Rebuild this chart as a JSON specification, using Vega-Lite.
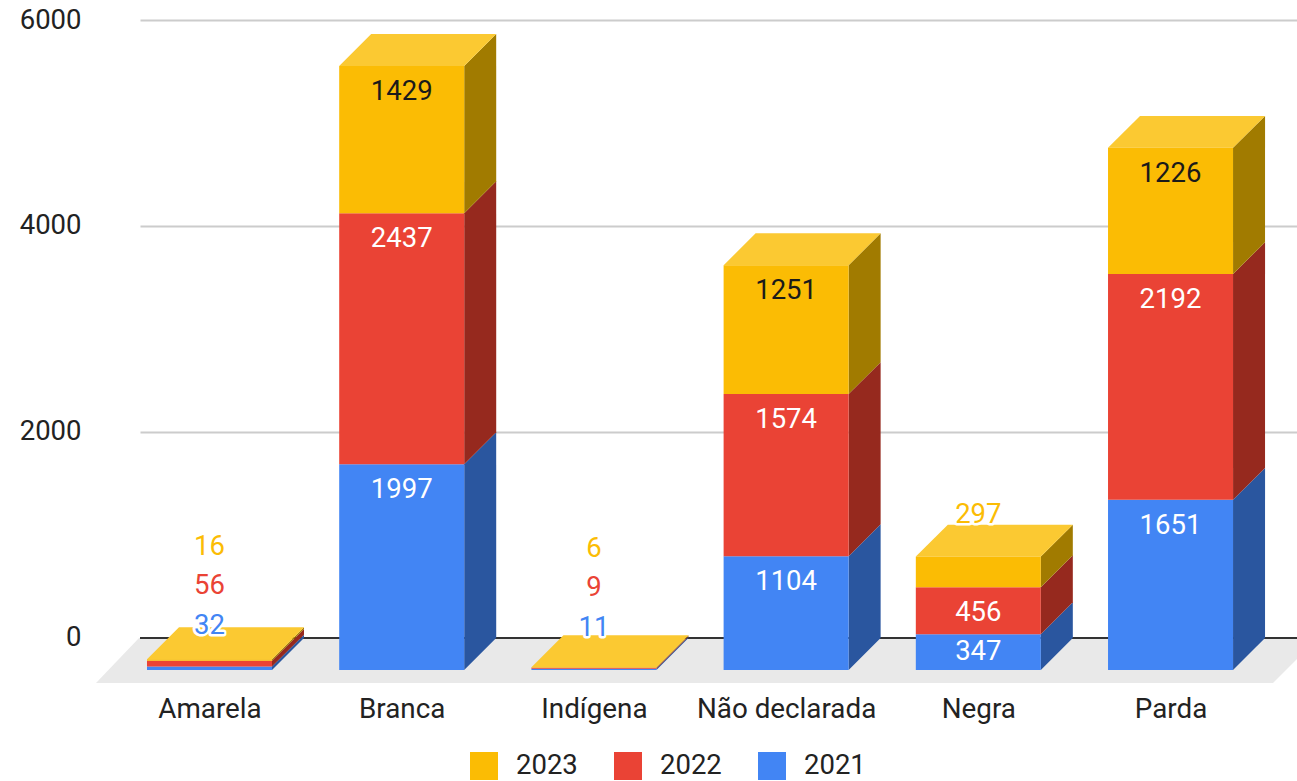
{
"$schema":"https://vega.github.io/schema/vega-lite/v6.json",
"autosize":{"type":"none"},
"padding":{"left":140,"top":20,"right":0,"bottom":91},
"width":1157,"height":670,
"background":"white",
"config":{"view":{"stroke":null},"font":"Roboto"},
"data":{"values":[
{"category":"Amarela","year":2021,"value":32},{"category":"Amarela","year":2022,"value":56},{"category":"Amarela","year":2023,"value":16},
{"category":"Branca","year":2021,"value":1997},{"category":"Branca","year":2022,"value":2437},{"category":"Branca","year":2023,"value":1429},
{"category":"Indígena","year":2021,"value":11},{"category":"Indígena","year":2022,"value":9},{"category":"Indígena","year":2023,"value":6},
{"category":"Não declarada","year":2021,"value":1104},{"category":"Não declarada","year":2022,"value":1574},{"category":"Não declarada","year":2023,"value":1251},
{"category":"Negra","year":2021,"value":347},{"category":"Negra","year":2022,"value":456},{"category":"Negra","year":2023,"value":297},
{"category":"Parda","year":2021,"value":1651},{"category":"Parda","year":2022,"value":2192},{"category":"Parda","year":2023,"value":1226}
]},
"transform":[
{"stack":"value","groupby":["category"],"sort":[{"field":"year","order":"ascending"}],"as":["s0","s1"]},
{"calculate":"indexof(['Amarela','Branca','Indígena','Não declarada','Negra','Parda'],datum.category)","as":"i"},
{"joinaggregate":[{"op":"sum","field":"value","as":"total"}],"groupby":["category"]}
],
"resolve":{"scale":{"color":"independent"}},
"layer":[
{"data":{"values":[{"fx":-0.5905,"lo":-437,"hi":-437},{"fx":-0.3668,"lo":-437,"hi":0},{"fx":5.533,"lo":-437,"hi":0},{"fx":5.767,"lo":0,"hi":0}]},
"transform":[],
"mark":{"type":"area","color":"#e9e9e9"},
"encoding":{
"x":{"field":"fx","type":"quantitative","scale":{"domain":[-0.3616,5.658],"nice":false,"zero":false},
"axis":{"values":[0,1,2,3,4,5],"title":null,"grid":false,"domain":false,"ticks":false,"labelFontSize":27.8,"labelColor":"#222222","labelFont":"Roboto","labelPadding":5,"labelFlush":false,"labelOverlap":false,
"labelExpr":"['Amarela','Branca','Indígena','Não declarada','Negra','Parda'][datum.value]"}},
"y":{"field":"lo","type":"quantitative","stack":null,"scale":{"domain":[-505,6000],"nice":false,"zero":false},
"axis":{"values":[0,2000,4000,6000],"title":null,"grid":true,"gridColor":"#cccccc","gridWidth":2,"domain":false,"ticks":false,"labelFontSize":27.5,"labelColor":"#222222","labelFont":"Roboto","labelPadding":59,"format":"d"}},
"y2":{"field":"hi"}}},
{"data":{"values":[{"v":0}]},"transform":[],
"mark":{"type":"rule","color":"#333333","strokeWidth":2},
"encoding":{"y":{"field":"v","type":"quantitative","scale":{"domain":[-505,6000],"nice":false,"zero":false}}}},
{"transform":[
{"calculate":"[0,1]","as":"corner"},{"flatten":["corner"]},
{"calculate":"datum.i+0.3252+datum.corner*0.1665","as":"fx"},
{"calculate":"datum.s0-310+datum.corner*310","as":"lo"},
{"calculate":"datum.s1-310+datum.corner*310","as":"hi"}],
"mark":{"type":"area"},
"encoding":{
"x":{"field":"fx","type":"quantitative","scale":{"domain":[-0.3616,5.658],"nice":false,"zero":false}},
"y":{"field":"lo","type":"quantitative","stack":null,"scale":{"domain":[-505,6000],"nice":false,"zero":false}},
"y2":{"field":"hi"},
"detail":{"field":"category"},
"color":{"field":"year","type":"nominal","legend":null,"scale":{"domain":[2023,2022,2021],"range":["#a17b00","#96291e","#2a569f"]}}}},
{"transform":[
{"filter":"datum.year==2023"},
{"calculate":"[0,1,2,3]","as":"corner"},{"flatten":["corner"]},
{"calculate":"datum.i+(datum.corner>=2?0.3252:-0.3252)+(datum.corner%2)*0.1665","as":"fx"},
{"calculate":"datum.s1-310+(datum.corner==3?310:0)","as":"lo"},
{"calculate":"datum.s1-310+(datum.corner==0?0:310)","as":"hi"}],
"mark":{"type":"area","color":"#fbc932"},
"encoding":{
"x":{"field":"fx","type":"quantitative","scale":{"domain":[-0.3616,5.658],"nice":false,"zero":false}},
"y":{"field":"lo","type":"quantitative","stack":null,"scale":{"domain":[-505,6000],"nice":false,"zero":false}},
"y2":{"field":"hi"},
"detail":{"field":"category"}}},
{"transform":[
{"calculate":"datum.i-0.3252","as":"xl"},{"calculate":"datum.i+0.3252","as":"xr"},
{"calculate":"datum.s0-310","as":"lo"},{"calculate":"datum.s1-310","as":"hi"}],
"mark":{"type":"rect"},
"encoding":{
"x":{"field":"xl","type":"quantitative","scale":{"domain":[-0.3616,5.658],"nice":false,"zero":false}},
"x2":{"field":"xr"},
"y":{"field":"lo","type":"quantitative","scale":{"domain":[-505,6000],"nice":false,"zero":false}},
"y2":{"field":"hi"},
"color":{"field":"year","type":"nominal","scale":{"domain":[2023,2022,2021],"range":["#fbbc04","#ea4335","#4285f4"]},
"legend":{"title":null,"orient":"none","legendX":330,"legendY":732,"direction":"horizontal","symbolType":"square","symbolSize":784,"symbolStrokeWidth":0,"labelFontSize":27.5,"labelColor":"#222222","labelFont":"Roboto","labelOffset":18,"columnPadding":36,"padding":0,"symbolOpacity":1}}}},
{"transform":[
{"filter":"datum.value>=300"},
{"calculate":"max(datum.s1-310-253,datum.s0-310+175)","as":"ly"}],
"mark":{"type":"text","font":"Roboto","fontSize":27.5,"baseline":"middle","align":"center"},
"encoding":{
"x":{"field":"i","type":"quantitative","scale":{"domain":[-0.3616,5.658],"nice":false,"zero":false}},
"y":{"field":"ly","type":"quantitative","scale":{"domain":[-505,6000],"nice":false,"zero":false}},
"text":{"field":"value","type":"quantitative","format":"d"},
"color":{"field":"year","type":"nominal","legend":null,"scale":{"domain":[2023,2022,2021],"range":["#1a1a1a","#ffffff","#ffffff"]}}}},
{"transform":[
{"filter":"datum.value<300"},
{"calculate":"datum.total<300?(datum.category=='Indígena'?100:120)+(datum.year-2021)*384:datum.s1-310+408","as":"ly"}],
"mark":{"type":"text","font":"Roboto","fontSize":27.5,"baseline":"middle","align":"center","stroke":"white","strokeWidth":5,"strokeJoin":"round","color":"white"},
"encoding":{
"x":{"field":"i","type":"quantitative","scale":{"domain":[-0.3616,5.658],"nice":false,"zero":false}},
"y":{"field":"ly","type":"quantitative","scale":{"domain":[-505,6000],"nice":false,"zero":false}},
"text":{"field":"value","type":"quantitative","format":"d"}}},
{"transform":[
{"filter":"datum.value<300"},
{"calculate":"datum.total<300?(datum.category=='Indígena'?100:120)+(datum.year-2021)*384:datum.s1-310+408","as":"ly"}],
"mark":{"type":"text","font":"Roboto","fontSize":27.5,"baseline":"middle","align":"center"},
"encoding":{
"x":{"field":"i","type":"quantitative","scale":{"domain":[-0.3616,5.658],"nice":false,"zero":false}},
"y":{"field":"ly","type":"quantitative","scale":{"domain":[-505,6000],"nice":false,"zero":false}},
"text":{"field":"value","type":"quantitative","format":"d"},
"color":{"field":"year","type":"nominal","legend":null,"scale":{"domain":[2023,2022,2021],"range":["#fbbc04","#ea4335","#4285f4"]}}}}
]
}
